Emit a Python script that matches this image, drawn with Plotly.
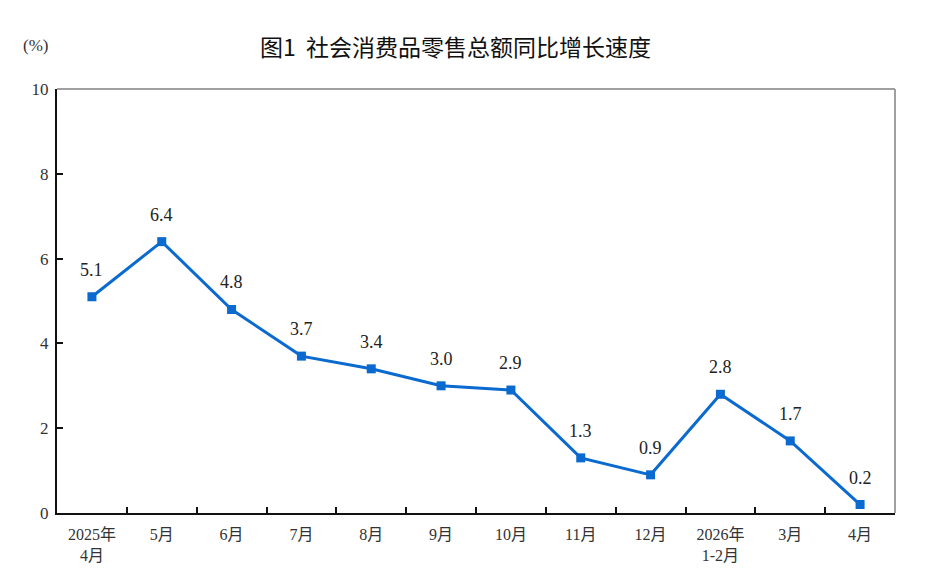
import plotly.graph_objects as go

categories = ["2025年<br>4月", "5月", "6月", "7月", "8月", "9月", "10月", "11月", "12月", "2026年<br>1-2月", "3月", "4月"]
values = [5.1, 6.4, 4.8, 3.7, 3.4, 3.0, 2.9, 1.3, 0.9, 2.8, 1.7, 0.2]
labels = ["5.1", "6.4", "4.8", "3.7", "3.4", "3.0", "2.9", "1.3", "0.9", "2.8", "1.7", "0.2"]
y_ticks = [0, 2, 4, 6, 8, 10]

serif = "Liberation Serif, Times New Roman, Noto Sans CJK SC, serif"
color = "#0A6ACF"

fig = go.Figure()
fig.add_trace(go.Scatter(
    x=list(range(len(categories))), y=values, mode="lines+markers",
    line=dict(color=color, width=3),
    marker=dict(symbol="square", size=9, color=color),
    hoverinfo="skip",
))

for i, (v, t) in enumerate(zip(values, labels)):
    fig.add_annotation(x=i, y=v, text=t, showarrow=False, yshift=27,
                       font=dict(family=serif, size=18, color="#222222"))

# plot frame (top/right gray)
fig.add_shape(type="line", xref="paper", yref="paper", x0=0, x1=1, y0=1, y1=1,
              line=dict(color="#A0A0A0", width=2))
fig.add_shape(type="line", xref="paper", yref="paper", x0=1, x1=1, y0=0, y1=1,
              line=dict(color="#A0A0A0", width=2))

fig.add_annotation(xref="paper", yref="paper", x=0.476, y=1, yshift=43, xanchor="center", yanchor="middle",
                   text="图1  社会消费品零售总额同比增长速度",
                   showarrow=False, font=dict(family="Noto Sans CJK SC", size=23, color="#111111"))
fig.add_annotation(xref="paper", yref="paper", x=0, y=1, xshift=-22, yshift=44, xanchor="center", yanchor="middle",
                   text="(%)",
                   showarrow=False, font=dict(family=serif, size=17, color="#333333"))

fig.update_layout(
    width=928, height=583,
    margin=dict(l=49, r=41, t=81, b=78),
    paper_bgcolor="white", plot_bgcolor="white",
    showlegend=False,
    xaxis=dict(
        range=[-0.5, len(categories) - 0.5],
        tickmode="array", tickvals=list(range(len(categories))), ticktext=categories,
        showgrid=False, zeroline=False,
        showline=True, linecolor="#111111", linewidth=2,
        ticks="", ticklabelstandoff=6,
        tickfont=dict(family=serif, size=16, color="#333333"),
        minor=dict(tickmode="array", tickvals=[i + 0.5 for i in range(len(categories) - 1)],
                   ticks="inside", ticklen=6, tickwidth=2, tickcolor="#111111"),
    ),
    yaxis=dict(
        range=[0, 10], tickvals=y_ticks,
        showgrid=False, zeroline=False,
        showline=True, linecolor="#111111", linewidth=2,
        ticks="inside", ticklen=6, tickwidth=2, tickcolor="#111111", ticklabelstandoff=3,
        tickfont=dict(family=serif, size=17, color="#333333"),
    ),
)

fig.write_html("out.html")
